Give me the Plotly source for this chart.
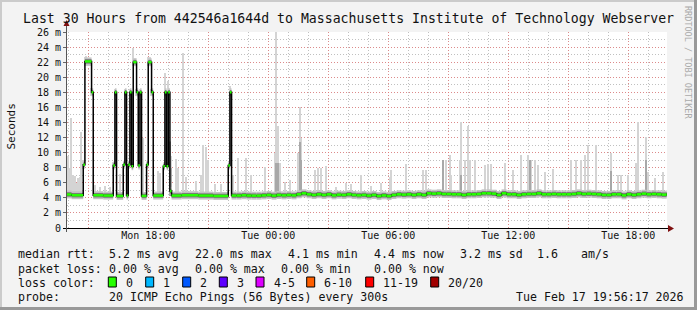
import plotly.graph_objects as go
import pandas as pd

DAYS = {"Mon": "2026-02-16", "Tue": "2026-02-17"}
START = "2026-02-16 13:56:17"
END = "2026-02-17 19:56:17"

def T(s):
    d, hm = s.split()
    return pd.Timestamp(DAYS[d] + " " + hm)

# ---- median rtt (ms): step breakpoints during the burst period ----
median_break_times = ["Mon 13:55", "Mon 14:10", "Mon 14:45", "Mon 14:50", "Mon 15:10", "Mon 15:15",
                      "Mon 15:45", "Mon 16:15", "Mon 16:20", "Mon 16:25", "Mon 16:45", "Mon 16:50",
                      "Mon 16:55", "Mon 17:00", "Mon 17:05", "Mon 17:10", "Mon 17:15", "Mon 17:25",
                      "Mon 17:30", "Mon 17:35", "Mon 17:40", "Mon 17:55", "Mon 18:00", "Mon 18:10",
                      "Mon 18:15", "Mon 18:45", "Mon 18:50", "Mon 18:55", "Mon 19:00", "Mon 19:05",
                      "Mon 19:10", "Mon 19:40", "Mon 20:30", "Mon 21:15", "Mon 22:00", "Mon 22:05"]
median_break_values = [4.45, 4.35, 8.4, 22.1, 18.0, 4.35,
                       4.3, 8.3, 18.0, 4.25, 8.4, 18.0,
                       4.3, 8.4, 18.0, 8.2, 22.0, 18.0,
                       8.3, 18.0, 4.25, 8.4, 22.0, 18.0,
                       4.3, 8.2, 18.0, 8.2, 18.0, 4.9,
                       4.3, 4.35, 4.3, 4.25, 8.3, 18.0]

# ---- median rtt (ms) every 15 min from Mon 22:10 to Tue 19:55 ----
median_quiet_start = "Mon 22:10"
median_quiet_values = [
    4.30, 4.30, 4.35, 4.30,
    4.29, 4.29, 4.33, 4.38,
    4.29, 4.38, 4.33, 4.38,
    4.33, 4.47, 4.60, 4.47,
    4.38, 4.47, 4.38, 4.47,
    4.33, 4.42, 4.38, 4.47,
    4.38, 4.33, 4.38, 4.29,
    4.38, 4.24, 4.33, 4.24,
    4.38, 4.47, 4.42, 4.47,
    4.38, 4.47, 4.38, 4.60,
    4.55, 4.60, 4.51, 4.51,
    4.47, 4.47, 4.38, 4.47,
    4.47, 4.51, 4.60, 4.60,
    4.55, 4.38, 4.60, 4.47,
    4.47, 4.38, 4.47, 4.51,
    4.51, 4.60, 4.47, 4.47,
    4.51, 4.47, 4.47, 4.47,
    4.51, 4.60, 4.51, 4.55,
    4.51, 4.47, 4.38, 4.38,
    4.47, 4.47, 4.33, 4.47,
    4.38, 4.47, 4.55, 4.47,
    4.51, 4.47, 4.42, 4.47,
]

# ---- smoke (ping spread), light shade: time, lowest ping, highest ping (ms) ----
smoke_times = ["Mon 14:00", "Mon 14:05", "Mon 14:10", "Mon 14:15", "Mon 14:20", "Mon 14:25", "Mon 14:30",
               "Mon 14:35", "Mon 14:40", "Mon 14:45", "Mon 14:50", "Mon 14:55", "Mon 15:00", "Mon 15:05",
               "Mon 15:10", "Mon 15:20", "Mon 15:35", "Mon 15:50", "Mon 16:05", "Mon 16:15", "Mon 16:20",
               "Mon 16:35", "Mon 16:50", "Mon 17:05", "Mon 17:15", "Mon 17:25", "Mon 17:35", "Mon 17:45",
               "Mon 18:00", "Mon 18:05", "Mon 18:10", "Mon 18:30", "Mon 18:35", "Mon 18:50", "Mon 19:00",
               "Mon 19:05", "Mon 19:10", "Mon 19:25", "Mon 19:30", "Mon 19:45", "Mon 19:55", "Mon 20:25",
               "Mon 20:40", "Mon 20:45", "Mon 20:55", "Mon 21:00", "Mon 21:20", "Mon 21:40", "Mon 22:05",
               "Mon 22:15", "Mon 22:30", "Mon 22:55", "Mon 23:10", "Mon 23:50",
               "Tue 00:20", "Tue 00:25", "Tue 00:30", "Tue 00:35", "Tue 00:50", "Tue 01:05", "Tue 01:30",
               "Tue 01:35", "Tue 01:40", "Tue 02:20", "Tue 02:30", "Tue 02:40", "Tue 02:55", "Tue 03:25",
               "Tue 03:55", "Tue 04:10", "Tue 04:40", "Tue 05:10", "Tue 05:40", "Tue 06:05", "Tue 06:10",
               "Tue 06:55", "Tue 07:45", "Tue 07:55", "Tue 08:45", "Tue 08:55", "Tue 09:05", "Tue 09:10",
               "Tue 09:35", "Tue 09:40", "Tue 09:50", "Tue 10:00", "Tue 10:05", "Tue 10:20", "Tue 10:50",
               "Tue 11:00", "Tue 11:10", "Tue 11:50", "Tue 12:15", "Tue 12:40", "Tue 13:00", "Tue 13:10",
               "Tue 13:20", "Tue 13:30", "Tue 13:50", "Tue 14:15", "Tue 15:10", "Tue 15:25", "Tue 15:40",
               "Tue 15:50", "Tue 16:00", "Tue 16:25", "Tue 17:10", "Tue 17:30", "Tue 17:40", "Tue 18:00",
               "Tue 18:25", "Tue 18:30", "Tue 18:55", "Tue 19:00", "Tue 19:20", "Tue 19:45"]
smoke_lo = [4.0, 4.0, 4.0, 4.0, 4.0, 4.0, 4.0,
            4.0, 4.0, 7.8, 21.5, 21.5, 21.5, 21.5,
            17.5, 4.0, 4.0, 4.0, 4.0, 7.8, 17.5,
            4.0, 17.5, 17.5, 21.5, 17.5, 17.5, 4.0,
            21.5, 21.5, 17.5, 4.0, 4.0, 17.5, 17.5,
            4.2, 4.2, 4.0, 4.0, 4.0, 4.0, 4.0,
            4.0, 4.0, 4.0, 4.0, 4.0, 4.0, 17.5,
            4.0, 4.0, 4.0, 4.0, 4.0,
            4.0, 4.0, 4.0, 4.0, 4.0, 4.0, 4.0,
            4.0, 4.0, 4.0, 4.0, 4.0, 4.0, 4.0,
            4.0, 4.0, 4.0, 4.0, 4.0, 4.0, 4.0,
            4.0, 4.0, 4.0, 4.0, 4.0, 4.0, 4.0,
            4.0, 4.0, 4.0, 4.0, 4.0, 4.0, 4.0,
            4.0, 4.0, 4.0, 4.0, 4.0, 4.0, 4.0,
            4.0, 4.0, 4.0, 4.0, 4.0, 4.0, 4.0,
            4.0, 4.0, 4.0, 4.0, 4.0, 4.0, 4.0,
            4.0, 4.0, 4.0, 4.0, 4.0, 4.0]
smoke_hi = [9.5, 8.0, 14.6, 7.0, 6.9, 6.0, 6.6,
            6.8, 12.8, 9.0, 22.7, 22.8, 22.6, 22.4,
            18.6, 5.7, 5.5, 5.6, 5.4, 8.8, 18.4,
            7.1, 18.5, 18.5, 23.9, 18.5, 18.4, 11.9,
            22.7, 22.7, 18.5, 7.5, 7.3, 20.6, 19.5,
            11.5, 9.5, 9.1, 7.9, 23.2, 6.7, 6.3,
            7.0, 11.0, 10.8, 9.0, 5.9, 5.8, 18.8,
            7.0, 9.3, 9.3, 7.0, 8.1,
            10.0, 26.0, 13.5, 8.6, 6.1, 6.4, 10.0,
            16.0, 12.0, 7.7, 8.0, 8.0, 8.2, 5.5,
            6.0, 5.8, 7.0, 5.6, 6.0, 6.7, 7.7,
            8.5, 7.7, 7.7, 8.5, 9.0, 9.7, 7.0,
            9.0, 14.0, 9.0, 13.5, 9.0, 9.0, 8.3,
            8.5, 8.5, 8.6, 7.7, 9.7, 9.7, 9.0,
            9.0, 8.3, 7.4, 7.8, 9.0, 9.0, 9.0,
            9.7, 11.0, 11.0, 10.0, 7.0, 7.0, 7.0,
            8.6, 14.0, 12.1, 7.4, 6.6, 7.4]

# ---- smoke, darker shade ----
dark_smoke_times = ["Mon 19:05", "Mon 19:10", "Tue 00:25", "Tue 00:30", "Tue 01:35", "Tue 01:40",
                    "Tue 08:45", "Tue 09:40", "Tue 13:05", "Tue 17:10", "Tue 18:55"]
dark_smoke_lo = [4.2, 4.2, 4.2, 4.2, 4.2, 4.2, 4.2, 4.2, 4.2, 4.2, 4.2]
dark_smoke_hi = [11.4, 8.0, 8.6, 8.6, 11.4, 9.0, 9.0, 7.0, 9.0, 7.5, 9.0]

# ---- axes ----
tick_label_times = ["Mon 18:00", "Tue 00:00", "Tue 06:00", "Tue 12:00", "Tue 18:00"]
tick_labels = ["Mon 18:00", "Tue 00:00", "Tue 06:00", "Tue 12:00", "Tue 18:00"]
y_tick_values = [0, 2, 4, 6, 8, 10, 12, 14, 16, 18, 20, 22, 24, 26]
y_tick_labels = ["0", "2 m", "4 m", "6 m", "8 m", "10 m", "12 m", "14 m", "16 m", "18 m",
                 "20 m", "22 m", "24 m", "26 m"]

title_text = "Last 30 Hours from 442546a1644d to Massachusetts Institute of Technology Webserver"
legend_rtt = ["median rtt:", "5.2 ms avg", "22.0 ms max", "4.1 ms min", "4.4 ms now", "3.2 ms sd", "1.6", "am/s"]
legend_loss = ["packet loss:", "0.00 % avg", "0.00 % max", "0.00 % min", "0.00 % now"]
loss_labels = ["0", "1", "2", "3", "4-5", "6-10", "11-19", "20/20"]
loss_colors = ["#26ff00", "#00b8ff", "#0059ff", "#5e00ff", "#dd00ff", "#ff5e00", "#ff0000", "#a10000"]
probe_text = ["probe:", "20 ICMP Echo Pings (56 Bytes) every 300s", "Tue Feb 17 19:56:17 2026"]

# ---------------- build series ----------------
med_t = [T(s) for s in median_break_times]
med_v = list(median_break_values)
q0 = T(median_quiet_start)
for i, v in enumerate(median_quiet_values):
    med_t.append(q0 + pd.Timedelta(minutes=15 * i))
    med_v.append(v)
end_t = pd.Timestamp(END)
start_t = pd.Timestamp(START)

seg_x, seg_y = [], []
for i in range(len(med_t)):
    t0 = max(med_t[i], start_t)
    t1 = med_t[i + 1] if i + 1 < len(med_t) else end_t
    seg_x += [t0, t1, None]
    seg_y += [med_v[i], med_v[i], None]

# pixel helpers (layout only)
PL, PR, PT, PB = 67, 667, 32, 228
W, H = 697, 310
def fx(p):
    return (p - PL) / (PR - PL)
def fy(p):
    return (PB - p) / (PB - PT)

FONT = "DejaVu Sans Mono"
fig = go.Figure()

s_t = [T(s) for s in smoke_times]
fig.add_trace(go.Bar(x=s_t, y=[h - l for h, l in zip(smoke_hi, smoke_lo)], base=smoke_lo,
                     width=[300000] * len(s_t), marker=dict(color="#d4d4d4", line=dict(width=0)),
                     hoverinfo="skip"))
d_t = [T(s) for s in dark_smoke_times]
fig.add_trace(go.Bar(x=d_t, y=[h - l for h, l in zip(dark_smoke_hi, dark_smoke_lo)], base=dark_smoke_lo,
                     width=[300000] * len(d_t), marker=dict(color="#a8a8a8", line=dict(width=0)),
                     hoverinfo="skip"))
# smoke band around median
fig.add_trace(go.Scatter(x=seg_x, y=seg_y, mode="lines", line=dict(color="#c4c4c4", width=8),
                         hoverinfo="skip", connectgaps=False))
fig.add_trace(go.Scatter(x=seg_x, y=seg_y, mode="lines", line=dict(color="#7a7a7a", width=4.5),
                         hoverinfo="skip", connectgaps=False))
# black step median
fig.add_trace(go.Scatter(x=[max(t, start_t) for t in med_t] + [end_t], y=med_v + [med_v[-1]],
                         mode="lines", line=dict(color="#000000", width=1.5, shape="hv"), hoverinfo="skip"))
# loss-coloured median (0 loss)
fig.add_trace(go.Scatter(x=seg_x, y=seg_y, mode="lines", line=dict(color=loss_colors[0], width=2.5),
                         hoverinfo="skip", connectgaps=False))

grid_times = pd.date_range("2026-02-16 15:00", "2026-02-17 18:00", freq="3h")
lab_map = {T(a): b for a, b in zip(tick_label_times, tick_labels)}
grid_text = [lab_map.get(t, "") for t in grid_times]

fig.update_layout(
    width=W, height=H, margin=dict(l=PL, r=W - PR, t=PT, b=H - PB),
    paper_bgcolor="#f3f3f3", plot_bgcolor="#ffffff", showlegend=False, barmode="overlay",
    bargap=0, hovermode=False,
    xaxis=dict(range=[start_t, end_t], type="date", tickvals=list(grid_times), ticktext=grid_text,
               showgrid=True, gridcolor="rgba(230,120,120,0.75)", griddash="1px,2px", gridwidth=1,
               minor=dict(tick0="2026-02-16 14:00", dtick=3600000, showgrid=True,
                          gridcolor="rgba(150,150,150,0.6)", griddash="1px,2px", gridwidth=1),
               ticks="", showline=False, zeroline=False,
               tickfont=dict(family=FONT, size=10, color="#111111")),
    yaxis=dict(range=[0, 26], tickvals=y_tick_values, ticktext=y_tick_labels,
               showgrid=True, gridcolor="rgba(230,120,120,0.75)", griddash="1px,2px", gridwidth=1,
               minor=dict(dtick=1, showgrid=True, gridcolor="rgba(150,150,150,0.6)",
                          griddash="1px,2px", gridwidth=1),
               ticks="outside", ticklen=3, tickcolor="#666666", showline=False, zeroline=False,
               tickfont=dict(family=FONT, size=10, color="#111111")),
)

shapes = []
# borders
shapes.append(dict(type="rect", xref="paper", yref="paper", x0=fx(0), x1=fx(W), y0=fy(0), y1=fy(2),
                   fillcolor="#cbcbcb", line=dict(width=0), layer="above"))
shapes.append(dict(type="rect", xref="paper", yref="paper", x0=fx(0), x1=fx(2), y0=fy(0), y1=fy(H),
                   fillcolor="#cbcbcb", line=dict(width=0), layer="above"))
shapes.append(dict(type="rect", xref="paper", yref="paper", x0=fx(0), x1=fx(W), y0=fy(H - 3), y1=fy(H),
                   fillcolor="#999999", line=dict(width=0), layer="above"))
shapes.append(dict(type="rect", xref="paper", yref="paper", x0=fx(W - 3), x1=fx(W), y0=fy(0), y1=fy(H),
                   fillcolor="#999999", line=dict(width=0), layer="above"))
# axes
shapes.append(dict(type="line", xref="paper", yref="paper", x0=fx(63), x1=fx(669), y0=fy(228.5), y1=fy(228.5),
                   line=dict(color="#000000", width=1), layer="above"))
shapes.append(dict(type="line", xref="paper", yref="paper", x0=fx(66.5), x1=fx(66.5), y0=fy(232), y1=fy(24),
                   line=dict(color="#555555", width=1), layer="above"))
def tri(pts):
    return "M " + " L ".join(f"{fx(a)},{fy(b)}" for a, b in pts) + " Z"
shapes.append(dict(type="path", xref="paper", yref="paper", path=tri([(668, 225), (674, 228.5), (668, 232)]),
                   fillcolor="#7f1010", line=dict(width=0), layer="above"))
shapes.append(dict(type="path", xref="paper", yref="paper", path=tri([(63.5, 26), (66.5, 20), (69.5, 26)]),
                   fillcolor="#7f1010", line=dict(width=0), layer="above"))
# loss colour boxes
box_x = [108.3, 145.7, 182.7, 219.3, 256, 306.7, 365.7, 430.7]
for bx, c in zip(box_x, loss_colors):
    shapes.append(dict(type="rect", xref="paper", yref="paper", x0=fx(bx), x1=fx(bx + 8),
                       y0=fy(287), y1=fy(277), fillcolor=c, line=dict(color="#000000", width=1),
                       layer="above"))
fig.update_layout(shapes=shapes)

ann = []
def txt(x, y, s, size=11.6, color="#111111", anchor="left", angle=0):
    ann.append(dict(x=fx(x), y=fy(y), xref="paper", yref="paper", text=s, showarrow=False,
                    xanchor=anchor, yanchor="middle", textangle=angle,
                    font=dict(family=FONT, size=size, color=color)))

txt(348, 18.5, title_text, size=13.2, anchor="center")
txt(11, 126.5, "Seconds", size=11, anchor="center", angle=-90)
txt(688, 62, "RRDTOOL / TOBI OETIKER", size=8.5, color="#aaaaaa", anchor="center", angle=90)

for x, s in zip([16, 107.3, 193.3, 286, 372.3, 458.3, 535, 579.3], legend_rtt):
    txt(x, 254.5, s)
for x, s in zip([16, 107.3, 193.3, 279.3, 372.3], legend_loss):
    txt(x, 268.5, s)
txt(16, 282.5, "loss color:")
for bx, s in zip(box_x, loss_labels):
    txt(bx + 15.5, 282.5, s)
for x, s in zip([16, 107.3, 514], probe_text):
    txt(x, 296.5, s)

fig.update_layout(annotations=ann)
fig.write_html("out.html")
